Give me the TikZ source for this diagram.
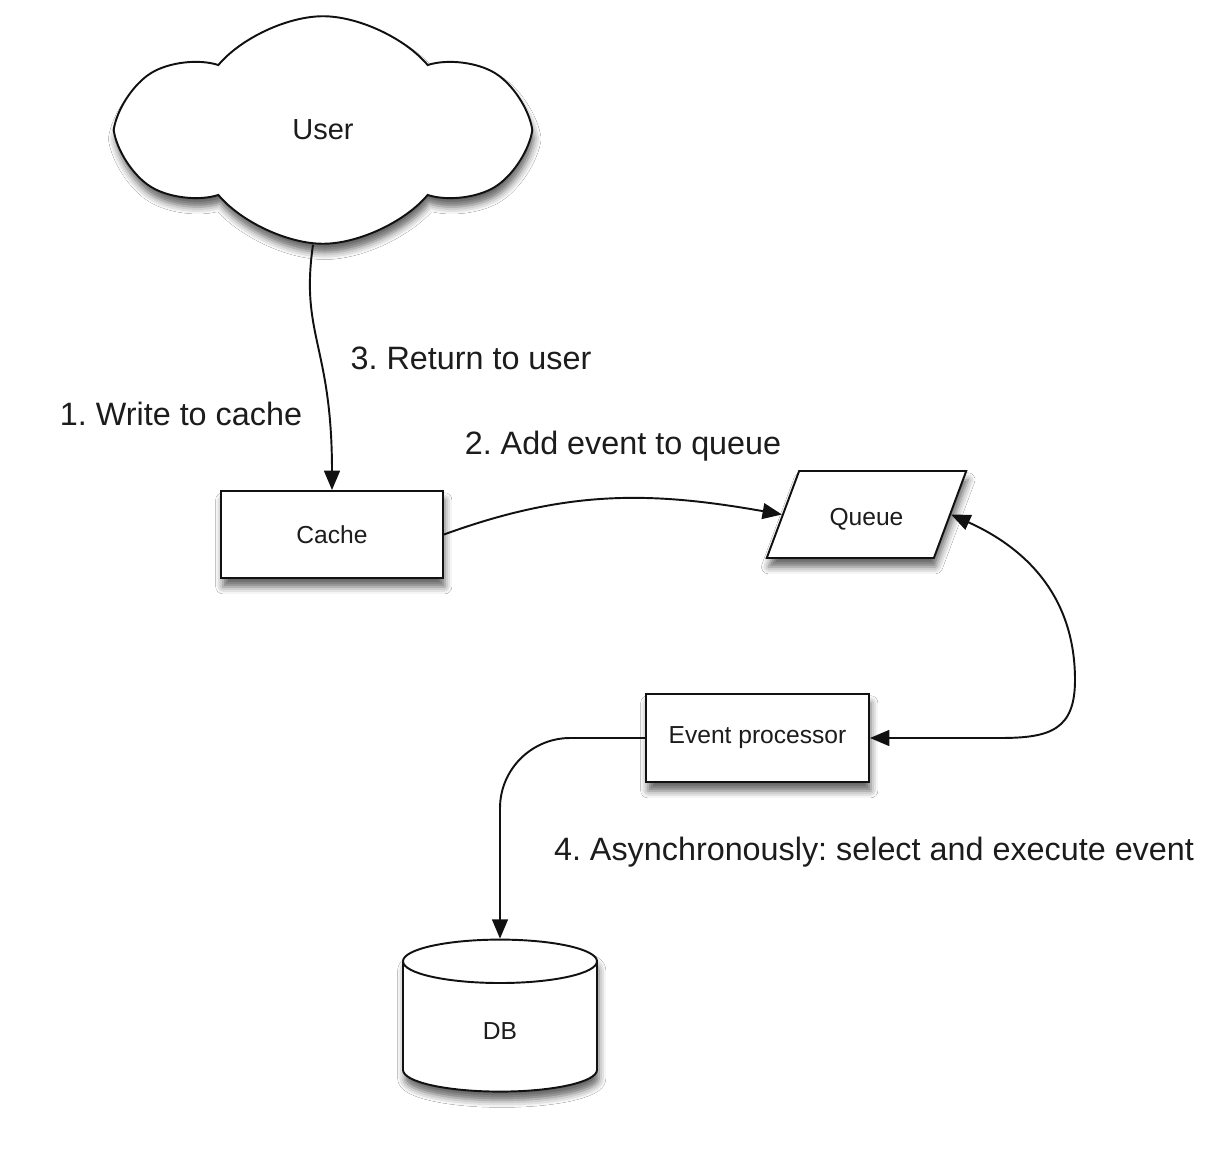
\documentclass[tikz,border=0pt]{standalone}
\usepackage{fontspec}
\setsansfont{Liberation Sans}
\usetikzlibrary{arrows.meta,shapes.geometric,shapes.symbols,shadows.blur}
\definecolor{ink}{HTML}{1C1C1C}
\definecolor{edge}{HTML}{111111}
\frenchspacing
\tikzset{
  font=\sffamily,
  >={Triangle[width=9pt,length=11pt]},
  dropshadow/.style={
    blur shadow={shadow xshift=1pt, shadow yshift=-5pt,
      shadow blur radius=4pt, shadow opacity=60}
  },
  base/.style={
    draw=edge, line width=1.1pt, fill=white, text=ink, align=center,
    inner sep=4pt, dropshadow, font=\sffamily\fontsize{14}{17}\selectfont
  },
  procbox/.style={base, rectangle, minimum width=44.4mm, minimum height=17.4mm},
  queuebox/.style={base, trapezium, trapezium left angle=66, trapezium right angle=114,
    trapezium stretches=true, minimum width=40.2mm, minimum height=17.4mm,
    text height=16pt, text depth=3pt},
  store/.style={base, cylinder, shape border rotate=90, aspect=0.9,
    minimum width=38.8mm, minimum height=30.4mm},
  usercloud/.style={base, cloud, cloud puffs=6, cloud puff arc=100, aspect=1.8,
    minimum width=79.5mm, minimum height=45.5mm, font=\sffamily\fontsize{16.5}{20}\selectfont},
  flow/.style={->, line width=1.1pt, draw=edge},
  flowboth/.style={<->, line width=1.1pt, draw=edge},
  steplabel/.style={font=\sffamily\fontsize{18.4}{22}\selectfont, text=ink, inner sep=0pt}
}

\begin{document}
\begin{tikzpicture}[x=1cm,y=1cm]
  \fill[white] (0,0) rectangle (24.64,-23.16);
  \useasboundingbox (0,0) rectangle (24.64,-23.16);

  % ---- Nodes ----
  \node[usercloud] (user)  at (6.46,-2.60)  {User};
  \node[procbox]   (cache) at (6.64,-10.69) {Cache};
  \node[queuebox]  (queue) at (17.33,-10.29) {Queue};
  \node[procbox, minimum width=44.6mm, minimum height=17.6mm] (proc) at (15.15,-14.76) {Event processor};
  \node[store]     (db)    at (10.00,-20.62) {DB};

  % ---- Labels ----
  \node[steplabel] (lwrite)  at (3.62,-8.28)  {1. Write to cache};
  \node[steplabel] (lreturn) at (9.42,-7.16)  {3. Return to user};
  \node[steplabel] (ladd)    at (12.46,-8.92) {2. Add event to queue};
  \node[steplabel] (lasync)  at (17.48,-17.04) {4. Asynchronously: select and execute event};

  % ---- Edges ----
  \draw[flow] ([xshift=-0.2cm]user.south) .. controls (6.0,-6.7) and (6.64,-6.9) .. (cache.north);
  \draw[flow] (cache.east) to[out=20,in=170] (queue.west);
  \draw[flowboth] (queue.east) .. controls (20.6,-11.0) and (21.5,-12.0) .. (21.5,-13.6)
     .. controls (21.5,-14.6) and (21.0,-14.76) .. (20.0,-14.76) -- (proc.east);
  \draw[flow, rounded corners=40pt] (proc.west) -| (db.north);
\end{tikzpicture}
\end{document}
